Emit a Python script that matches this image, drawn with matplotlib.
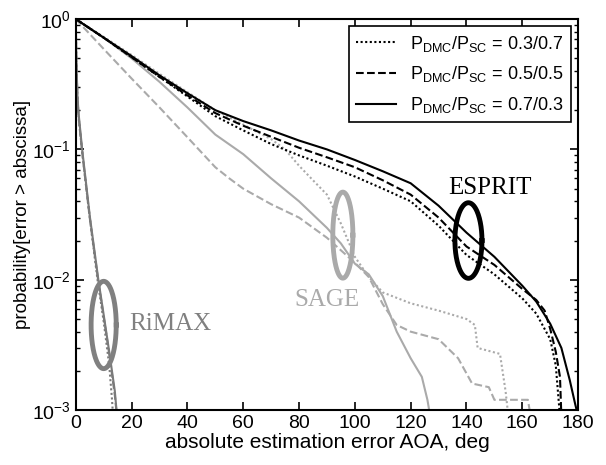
import numpy as np
import matplotlib.pyplot as plt

# ESPRIT (black)
esp_x_03 = [0, 10, 20, 30, 40, 50, 60, 70, 80, 90, 100, 110, 120, 130, 140, 150, 160, 165, 170, 172, 173, 173.5]
esp_p_03 = [1.0, 0.72, 0.51, 0.36, 0.255, 0.18, 0.14, 0.11, 0.09, 0.075, 0.062, 0.05, 0.04, 0.026, 0.0155,
            0.011, 0.0072, 0.0055, 0.0035, 0.0022, 0.0012, 0.0009]
esp_x_05 = [0, 10, 20, 30, 40, 50, 60, 70, 80, 90, 100, 110, 120, 130, 140, 150, 160, 165, 168, 170, 172, 173.5, 174]
esp_p_05 = [1.0, 0.72, 0.51, 0.36, 0.26, 0.19, 0.152, 0.125, 0.103, 0.087, 0.073, 0.058, 0.045, 0.03, 0.018,
            0.013, 0.0085, 0.007, 0.0058, 0.0042, 0.0028, 0.0018, 0.0009]
esp_x_07 = [0, 10, 20, 30, 40, 50, 60, 70, 80, 90, 100, 110, 120, 130, 140, 150, 160, 165, 170, 174, 177, 179, 180]
esp_p_07 = [1.0, 0.72, 0.52, 0.37, 0.27, 0.2, 0.165, 0.14, 0.117, 0.1, 0.083, 0.068, 0.055, 0.037, 0.023,
            0.015, 0.009, 0.0068, 0.0046, 0.003, 0.0017, 0.0011, 0.0009]

# SAGE (light gray)
sage_x_03 = [0, 10, 20, 30, 40, 50, 60, 70, 75, 80, 85, 90, 95, 100, 105, 110, 120, 130, 140, 143, 144, 152, 154,
             155]
sage_p_03 = [1.0, 0.73, 0.53, 0.38, 0.275, 0.2, 0.155, 0.12, 0.1, 0.075, 0.058, 0.045, 0.027, 0.015, 0.0105,
             0.008, 0.0066, 0.0058, 0.005, 0.0045, 0.003, 0.0027, 0.0014, 0.0009]
sage_x_05 = [0, 10, 20, 30, 40, 50, 55, 60, 70, 80, 90, 100, 105, 110, 115, 120, 130, 137, 142, 148, 150, 162, 163]
sage_p_05 = [1.0, 0.59, 0.35, 0.21, 0.124, 0.073, 0.06, 0.05, 0.038, 0.03, 0.021, 0.0135, 0.0105, 0.0065, 0.0045,
             0.004, 0.0035, 0.0025, 0.0016, 0.0015, 0.0012, 0.0012, 0.0009]
sage_x_07 = [0, 10, 20, 30, 40, 50, 60, 70, 80, 90, 95, 100, 105, 110, 115, 120, 124, 126, 127]
sage_p_07 = [1.0, 0.72, 0.5, 0.33, 0.21, 0.13, 0.092, 0.06, 0.04, 0.025, 0.019, 0.0133, 0.011, 0.0075, 0.004,
             0.0025, 0.0018, 0.0012, 0.0009]

# RiMAX (dark gray)
rim_x_03 = [0, 0.2, 0.6, 1, 2.2, 5, 7.8, 10, 12, 13, 13.5]
rim_p_03 = [1.0, 0.5, 0.25, 0.18, 0.1, 0.03, 0.01, 0.0048, 0.0022, 0.0012, 0.0008]
rim_x_05 = [0, 0.2, 0.6, 1, 2.2, 5, 8, 10, 12, 14, 15]
rim_p_05 = [1.0, 0.5, 0.25, 0.18, 0.1, 0.03, 0.01, 0.0052, 0.0027, 0.0013, 0.0008]
rim_x_07 = [0, 0.2, 0.6, 1, 2.3, 5.1, 8.1, 10, 12, 14, 15]
rim_p_07 = [1.0, 0.5, 0.26, 0.19, 0.1, 0.03, 0.01, 0.0054, 0.0028, 0.0014, 0.0008]

labels = [r'$\mathregular{P_{DMC}/P_{SC}}$ = 0.3/0.7',
          r'$\mathregular{P_{DMC}/P_{SC}}$ = 0.5/0.5',
          r'$\mathregular{P_{DMC}/P_{SC}}$ = 0.7/0.3']

plt.rcParams['font.family'] = ['Liberation Sans', 'DejaVu Sans']
plt.rcParams['mathtext.fontset'] = 'custom'
plt.rcParams['mathtext.rm'] = 'Liberation Sans'

fig = plt.figure(figsize=(6.06, 4.65), dpi=100)
ax = fig.add_axes([0.125, 0.118, 0.829, 0.841])

black, light, dark = 'black', '#aaaaaa', '#7a7a7a'
lw = 1.5
styles = [(0, (1, 1.2)), '--', '-']

for xs, ps, ls in zip([rim_x_03, rim_x_05, rim_x_07], [rim_p_03, rim_p_05, rim_p_07], styles):
    ax.plot(xs, ps, color=dark, lw=lw, ls=ls)
for xs, ps, ls in zip([sage_x_03, sage_x_05, sage_x_07], [sage_p_03, sage_p_05, sage_p_07], styles):
    ax.plot(xs, ps, color=light, lw=lw, ls=ls)
lines = []
for xs, ps, ls, lab in zip([esp_x_03, esp_x_05, esp_x_07], [esp_p_03, esp_p_05, esp_p_07], styles, labels):
    l, = ax.plot(xs, ps, color=black, lw=lw, ls=ls, label=lab)
    lines.append(l)


def ellipse(cx, cp, w, dec, color):
    t = np.linspace(0, 2 * np.pi, 200)
    ax.plot(cx + w / 2 * np.cos(t), 10 ** (np.log10(cp) + dec / 2 * np.sin(t)), color=color, lw=3.5)


ellipse(10, 0.0045, 9, 0.67, '#808080')
ellipse(95.7, 0.022, 7.2, 0.66, light)
ellipse(140.7, 0.02, 9.7, 0.58, black)

serif = ['Liberation Serif', 'DejaVu Serif']
ax.text(34, 0.0046, 'RiMAX', color='#808080', fontsize=18, family=serif, ha='center', va='center')
ax.text(90, 0.0070, 'SAGE', color=light, fontsize=18, family=serif, ha='center', va='center')
ax.text(148.4, 0.051, 'ESPRIT', color=black, fontsize=18, family=serif, ha='center', va='center')

ax.set_yscale('log')
ax.set_xlim(0, 180)
ax.set_ylim(1e-3, 1)
ax.set_xticks(np.arange(0, 181, 20))
ax.tick_params(which='both', direction='in', top=True, right=True, labelsize=14)
ax.tick_params(which='major', length=6, width=1.2)
ax.tick_params(which='minor', length=3, width=1.0)
for s in ax.spines.values():
    s.set_linewidth(1.5)
ax.set_xlabel('absolute estimation error AOA, deg', fontsize=15, labelpad=1)
ax.set_ylabel('probability[error > abscissa]', fontsize=13.5, labelpad=1)

leg = ax.legend(handles=lines, loc='upper right', fontsize=13, fancybox=False, edgecolor='black',
                framealpha=1, handlelength=2.2, borderaxespad=0.4, labelspacing=0.6)
leg.get_frame().set_linewidth(1.2)

fig.savefig('out.png', dpi=100)
